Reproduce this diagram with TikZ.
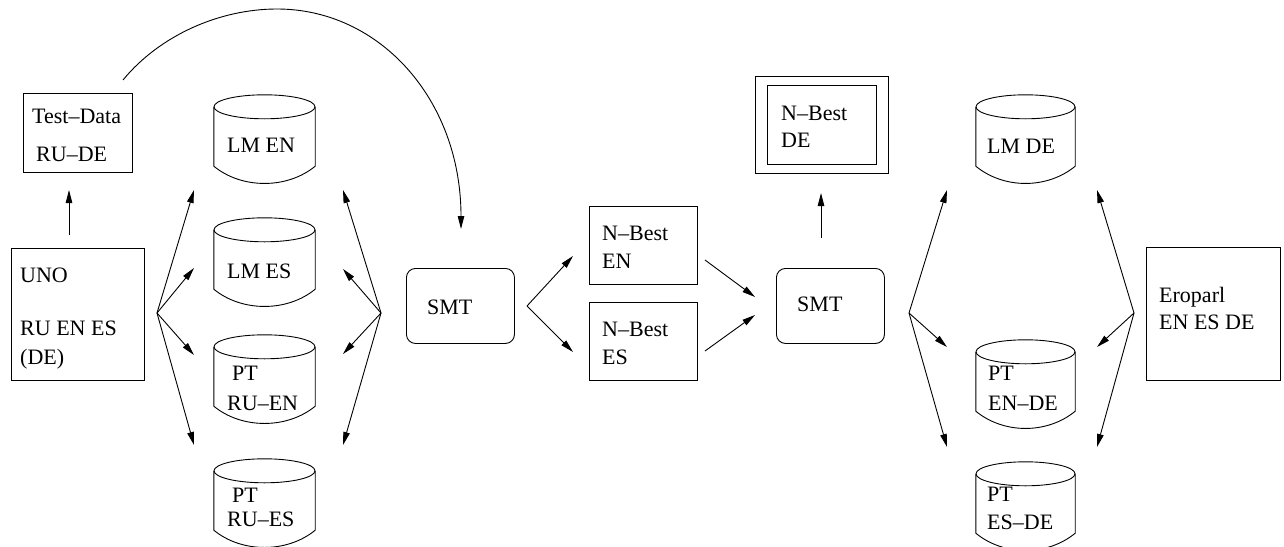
\documentclass[tikz,border=0pt]{standalone}
\usepackage{fontspec}
\setmainfont{Liberation Serif}
\usetikzlibrary{arrows.meta,calc}

% outline of a data store: elliptic lid, straight sides, sagging floor
\newcommand\dbdraw[2]{%
  \draw[ln] ([yshift=-12pt]#1.north west) -- ([yshift=17pt]#1.south west)
    .. controls ([xshift=28pt,yshift=-6pt]#1.south west) and ([xshift=-28pt,yshift=-6pt]#1.south east)
    .. ([yshift=17pt]#1.south east) -- ([yshift=-12pt]#1.north east);
  \draw[ln] ([yshift=-12pt]#1.north) ellipse [x radius=#2pt, y radius=12pt];
}

\tikzset{
  ln/.style={line width=0.9pt, black},
  arr/.style={ln, -{Triangle[length=13pt,width=6.5pt]}},
  box/.style={draw, ln, rectangle, inner sep=0pt, anchor=north west},
  rbox/.style={box, rounded corners=9pt},
  dbase/.style={rectangle, inner sep=0pt, minimum height=88pt},
  lbl/.style={anchor=base west, inner sep=0pt, font=\fontsize{22}{26}\selectfont},
}

\begin{document}
\begin{tikzpicture}[x=1pt,y=-1pt]
\useasboundingbox[fill=white] (0,0) rectangle (1284,546);

% ---------- boxes ----------
\node[box, minimum width=109pt, minimum height=79pt] (test) at (23,93) {};
\node[box, minimum width=133pt, minimum height=132pt] (uno) at (11,248) {};
\node[rbox, minimum width=108pt, minimum height=75pt] (smtA) at (406,268) {};
\node[box, minimum width=108pt, minimum height=78pt] (nben) at (589,206) {};
\node[box, minimum width=108pt, minimum height=78pt] (nbes) at (589,302) {};
\node[rbox, minimum width=108pt, minimum height=75pt] (smtB) at (776,268) {};
\node[box, minimum width=133pt, minimum height=97pt] (nbdeo) at (755,76) {};
\node[box, minimum width=109pt, minimum height=79pt] (nbdei) at (767,85) {};
\node[box, minimum width=134pt, minimum height=133pt] (euro) at (1146,247) {};

% ---------- data stores ----------
\node[dbase, minimum width=101pt] (lmen) at (264.5,139) {};
\node[dbase, minimum width=101pt] (lmes) at (264.5,262) {};
\node[dbase, minimum width=101pt] (ptruen) at (264.5,379) {};
\node[dbase, minimum width=101pt] (ptrues) at (264.5,503) {};
\node[dbase, minimum width=99pt] (lmde) at (1025.5,139) {};
\node[dbase, minimum width=99pt] (ptende) at (1025.5,384) {};
\node[dbase, minimum width=99pt] (ptesde) at (1025.5,506) {};
\dbdraw{lmen}{50.5}
\dbdraw{lmes}{50.5}
\dbdraw{ptruen}{50.5}
\dbdraw{ptrues}{50.5}
\dbdraw{lmde}{49.5}
\dbdraw{ptende}{49.5}
\dbdraw{ptesde}{49.5}

% ---------- texts ----------
\node[lbl] (t1) at (32,123) {Test–Data};
\node[lbl] (t2) at (36,161) {RU–DE};
\node[lbl] (t3) at (20,282) {UNO};
\node[lbl] (t4) at (20,335) {RU EN ES};
\node[lbl] (t5) at (20,364) {(DE)};
\node[lbl] (t6) at (227,152) {LM EN};
\node[lbl] (t7) at (227,278) {LM ES};
\node[lbl] (t8) at (232,380) {PT};
\node[lbl] (t9) at (227,410) {RU–EN};
\node[lbl] (t10) at (232,502) {PT};
\node[lbl] (t11) at (227,526) {RU–ES};
\node[lbl] (t12) at (427,314) {SMT};
\node[lbl] (t13) at (602,240) {N–Best};
\node[lbl] (t14) at (602,268) {EN};
\node[lbl] (t15) at (602,336) {N–Best};
\node[lbl] (t16) at (602,364) {ES};
\node[lbl] (t17) at (797,311) {SMT};
\node[lbl] (t18) at (781,120) {N–Best};
\node[lbl] (t19) at (781,147) {DE};
\node[lbl] (t20) at (987,153) {LM DE};
\node[lbl] (t21) at (988,380) {PT};
\node[lbl] (t22) at (988,410) {EN–DE};
\node[lbl] (t23) at (987,501) {PT};
\node[lbl] (t24) at (987,529) {ES–DE};
\node[lbl] (t25) at (1159,302) {Eroparl};
\node[lbl] (t26) at (1159,329) {EN ES DE};

% ---------- connectors ----------
% UNO -> Test-Data
\coordinate (upA0) at (69,235); \coordinate (upA1) at (69,190);
\draw[arr] (upA0) -- (upA1);

% Test-Data -> first SMT
\coordinate (arcS) at (123,80); \coordinate (arcT) at (277,9); \coordinate (arcE) at (461,229);
\draw[arr] (arcS) .. controls (160,35) and (220,9) .. (arcT)
                  .. controls (380,9) and (461,100) .. (arcE);

% fans around the first group of stores
\coordinate (fanA) at (157,313);
\foreach \y [count=\i] in {190,268,355,445} {
  \coordinate (fanA\i) at (194,\y);
  \draw[arr] (fanA) -- (fanA\i);
}
\coordinate (fanB) at (381,313);
\foreach \y [count=\i] in {190,269,354,445} {
  \coordinate (fanB\i) at (343,\y);
  \draw[arr] (fanB) -- (fanB\i);
}

% first SMT -> N-best lists
\coordinate (fanC) at (527,306);
\coordinate (fanC1) at (573,256); \coordinate (fanC2) at (573,352);
\draw[arr] (fanC) -- (fanC1);
\draw[arr] (fanC) -- (fanC2);

% N-best lists -> second SMT
\coordinate (nbA0) at (705,260); \coordinate (nbA1) at (755,297);
\coordinate (nbB0) at (705,351); \coordinate (nbB1) at (755,315);
\draw[arr] (nbA0) -- (nbA1);
\draw[arr] (nbB0) -- (nbB1);

% second SMT -> final N-best
\coordinate (upB0) at (821,238); \coordinate (upB1) at (821,193);
\draw[arr] (upB0) -- (upB1);

% fans around the second group of stores
\coordinate (fanD) at (909,313);
\foreach \y [count=\i] in {190,347,447} {
  \coordinate (fanD\i) at (947,\y);
  \draw[arr] (fanD) -- (fanD\i);
}
\coordinate (fanE) at (1134,313);
\foreach \y [count=\i] in {190,347,447} {
  \coordinate (fanE\i) at (1097,\y);
  \draw[arr] (fanE) -- (fanE\i);
}
\end{tikzpicture}
\end{document}
